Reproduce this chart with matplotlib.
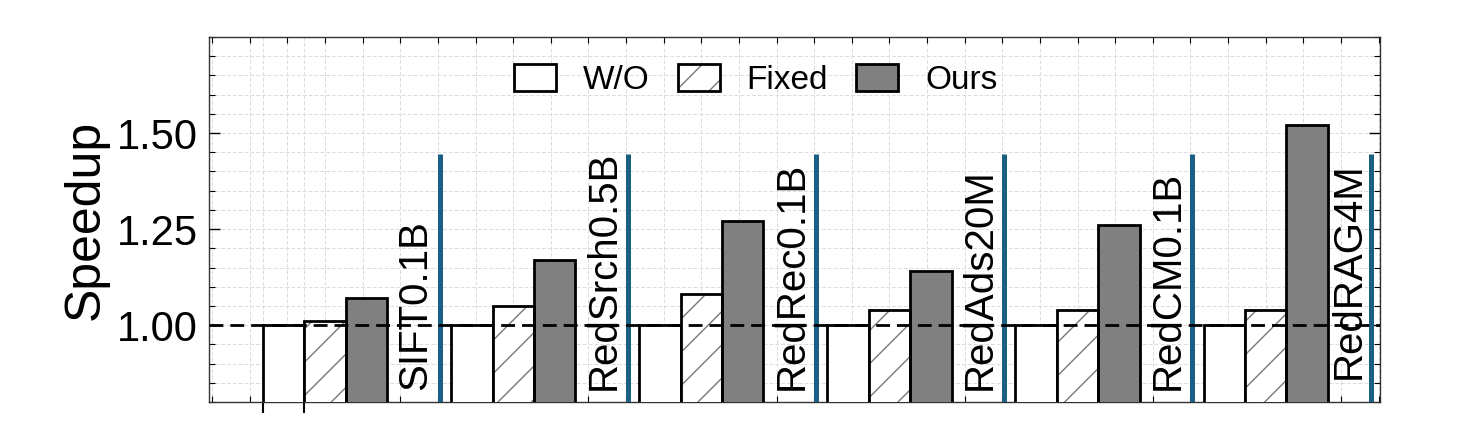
import numpy as np
import matplotlib
matplotlib.use("Agg")
import matplotlib.pyplot as plt
from matplotlib.patches import Patch
from matplotlib.ticker import MultipleLocator, FixedLocator, NullFormatter

plt.rcParams['font.family'] = ['Liberation Sans', 'DejaVu Sans']

# ---- data ----
datasets = ["SIFT0.1B", "RedSrch0.5B", "RedRec0.1B", "RedAds20M", "RedCM0.1B", "RedRAG4M"]
series_names = ["W/O", "Fixed", "Ours"]
wo_vals = [1.00, 1.00, 1.00, 1.00, 1.00, 1.00]
fixed_vals = [1.01, 1.05, 1.08, 1.04, 1.04, 1.04]
ours_vals = [1.07, 1.17, 1.27, 1.14, 1.26, 1.52]
ytick_vals = [1.00, 1.25, 1.50]
ytick_labels = ["1.00", "1.25", "1.50"]

# ---- figure ----
fig = plt.figure(figsize=(14.76, 4.32), dpi=100)
ax = fig.add_axes([0.1416, 0.0694, 0.7934, 0.8450])

x = np.arange(len(datasets))
w = 0.22
lw = 2.0
blue = '#1b5f84'

ax.bar(x - w, wo_vals, w, color='white', edgecolor='black', linewidth=lw, zorder=3)
# hatched fill in gray, then black outline on top
ax.bar(x, fixed_vals, w, color='white', edgecolor='#777777', linewidth=0, hatch='/', zorder=3)
ax.bar(x, fixed_vals, w, color='none', edgecolor='black', linewidth=lw, zorder=3.1)
ax.bar(x + w, ours_vals, w, color='#808080', edgecolor='black', linewidth=lw, zorder=3)

# baseline
ax.axhline(1.0, color='black', linestyle=(0, (5, 2.5)), linewidth=2.0, zorder=5)

# separators and dataset labels
line_off = [0.61, 0.61, 0.61, 0.61, 0.61, 0.56]
text_off = [0.48, 0.48, 0.48, 0.48, 0.48, 0.44]
text_y = [0.83, 0.83, 0.83, 0.83, 0.83, 0.86]
for i, name in enumerate(datasets):
    ax.plot([i + line_off[i]] * 2, [0.8, 1.445], color=blue, linewidth=3.6,
            solid_capstyle='butt', zorder=4)
    ax.text(i + text_off[i], text_y[i], name, rotation=90, ha='center', va='bottom',
            fontsize=29, zorder=6)

ax.set_xlim(-0.617, 5.608)
ax.set_ylim(0.8, 1.75)

ax.set_yticks(ytick_vals)
ax.set_yticklabels(ytick_labels)
ax.yaxis.set_minor_locator(MultipleLocator(0.05))
ax.xaxis.set_major_locator(FixedLocator([-w * 1.5, -w * 0.5]))
ax.xaxis.set_major_formatter(NullFormatter())
ax.xaxis.set_minor_locator(MultipleLocator(0.2))

ax.tick_params(axis='y', which='major', direction='in', length=8, width=1,
               left=True, right=True, labelsize=30, pad=8)
ax.tick_params(axis='y', which='minor', direction='in', length=4, width=0.8,
               left=True, right=True)
ax.tick_params(axis='x', which='major', direction='out', length=8, width=1.5,
               top=False, bottom=True)
ax.tick_params(axis='x', which='minor', direction='in', length=4, width=0.8,
               top=True, bottom=True)

ax.grid(True, which='both', linestyle=(0, (4, 2)), color='#dcdcdc', linewidth=0.7, zorder=0)
ax.set_axisbelow(True)
for s in ax.spines.values():
    s.set_linewidth(1.0)
    s.set_color('#333333')

ax.set_ylabel("Speedup", fontsize=36, labelpad=6)

# legend
h_wo = Patch(facecolor='white', edgecolor='black', linewidth=lw)
h_fx = (Patch(facecolor='white', edgecolor='#777777', linewidth=0, hatch='/'),
        Patch(facecolor='none', edgecolor='black', linewidth=lw))
h_ou = Patch(facecolor='#808080', edgecolor='black', linewidth=lw)
ax.legend([h_wo, h_fx, h_ou], series_names, loc='upper center',
          bbox_to_anchor=(0.467, 1.0), ncol=3, frameon=False, fontsize=24,
          handlelength=1.26, handleheight=0.87, handletextpad=0.8,
          columnspacing=0.85, borderaxespad=0.4)

fig.savefig("out.png", dpi=100)
